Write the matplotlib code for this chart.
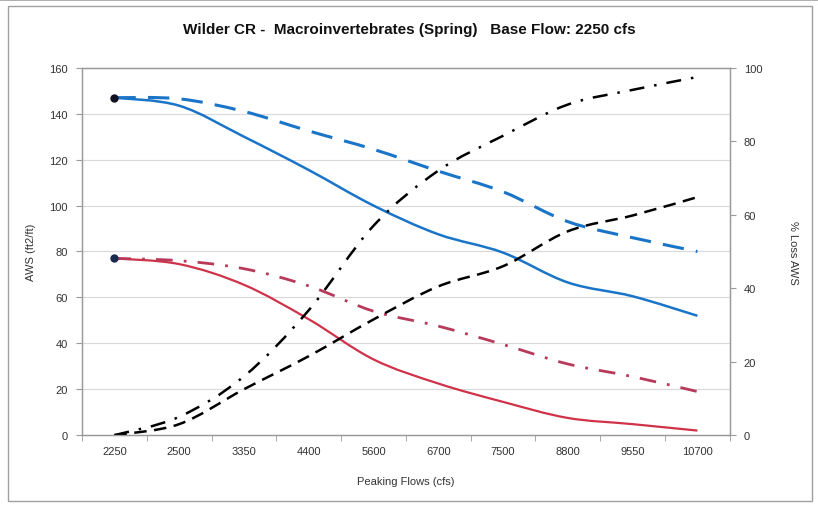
import matplotlib.pyplot as plt
import numpy as np
from matplotlib.patches import Rectangle, PathPatch
from matplotlib.path import Path

plt.rcParams["font.family"] = ["Liberation Sans", "DejaVu Sans"]

flows = ["2250", "2500", "3350", "4400", "5600", "6700", "7500", "8800", "9550", "10700"]

# AWS (ft2/ft), left axis
aws_blue = [147, 143.5, 130, 115.5, 100, 87.5, 79.5, 66.5, 60.5, 52]
aws_blue_dash = [147, 146.5, 141, 132.5, 124.5, 115, 106, 93, 86, 80]
aws_red = [77, 74.5, 65.5, 50.5, 33, 22.5, 14.5, 7.5, 4.8, 2]
aws_red_dashdot = [77, 76, 72.5, 65, 54, 47.5, 39.5, 31, 25.5, 19]

# % loss AWS, right axis
loss_dashdot = [0, 5, 16, 34, 57, 72, 81.5, 90, 94, 97.5]
loss_dash = [0, 3, 12.5, 21.5, 31.5, 40.5, 46, 55.5, 59.8, 64.8]

BLUE = "#1a74c8"
RED = "#d0324a"
RED2 = "#b83a5a"
GRID = "#d9d9d9"
SPINE = "#9a9a9a"
TXT = "#333333"


def smooth_line(a, xs, ys, **kw):
    # Excel-style smoothed line: Catmull-Rom segments as cubic Bezier curves
    pts = np.column_stack([xs, ys]).astype(float)
    ext = np.vstack([pts[0], pts, pts[-1]])
    verts = [pts[0]]
    codes = [Path.MOVETO]
    for i in range(1, len(ext) - 2):
        p0, p1, p2, p3 = ext[i - 1], ext[i], ext[i + 1], ext[i + 2]
        verts += [p1 + (p2 - p0) / 6, p2 - (p3 - p1) / 6, p2]
        codes += [Path.CURVE4] * 3
    a.add_patch(PathPatch(Path(verts, codes), fill=False, **kw))


fig = plt.figure(figsize=(8.18, 5.06), dpi=100)
ax = fig.add_axes([0.1002, 0.138, 0.792, 0.726])
ax2 = ax.twinx()

x = np.arange(len(flows))

smooth_line(ax, x, aws_blue, edgecolor=BLUE, lw=1.8)
smooth_line(ax, x, aws_blue_dash, edgecolor=BLUE, lw=2.2, linestyle=(0, (7, 4)))
smooth_line(ax, x, aws_red, edgecolor=RED, lw=1.6)
smooth_line(ax, x, aws_red_dashdot, edgecolor=RED2, lw=2.0, linestyle=(0, (6, 4, 1, 4)))
ax.plot([x[0]], [aws_blue[0]], "o", color="#111122", ms=5, zorder=5)
ax.plot([x[0]], [aws_red[0]], "o", color="#1a2a50", ms=5, zorder=5)

smooth_line(ax2, x, loss_dashdot, edgecolor="black", lw=1.8, linestyle=(0, (6, 4, 1, 4)))
smooth_line(ax2, x, loss_dash, edgecolor="black", lw=1.8, linestyle=(0, (5, 3)))

ax.set_xlim(-0.5, len(flows) - 0.5)
ax.set_ylim(0, 160)
ax.set_yticks(np.arange(0, 161, 20))
ax2.set_ylim(0, 100)
ax2.set_yticks(np.arange(0, 101, 20))
ax.set_xticks(x)
ax.set_xticklabels(flows)
ax.set_xticks(np.arange(-0.5, len(flows), 1), minor=True)

for v in range(20, 161, 20):
    ax.axhline(v, color=GRID, lw=0.8, zorder=0)

for a in (ax, ax2):
    for s in a.spines.values():
        s.set_color(SPINE)
        s.set_linewidth(0.9)
    a.tick_params(axis="y", labelsize=8, colors=TXT, length=4, width=0.8, pad=6)
    a.tick_params(axis="y", color=SPINE)

ax.tick_params(axis="x", which="major", length=0, labelsize=8, labelcolor=TXT, pad=8)
ax.tick_params(axis="x", which="minor", length=4, color=SPINE)

ax.set_ylabel("AWS (ft2/ft)", fontsize=8, color=TXT, labelpad=10)
ax2.set_ylabel("% Loss AWS", fontsize=8, color=TXT, rotation=270, labelpad=26)
ax.set_xlabel("Peaking Flows (cfs)", fontsize=8, color=TXT, labelpad=14)

fig.text(0.5, 0.94, "Wilder CR -  Macroinvertebrates (Spring)   Base Flow: 2250 cfs",
         ha="center", va="center", fontsize=11, fontweight="bold", color="#111111")

# outer frame
fig.patches.append(Rectangle((8 / 818, 4 / 506), 804 / 818, 495 / 506, transform=fig.transFigure,
                             fill=False, edgecolor="#a0a0a0", lw=1.0))
fig.add_artist(plt.Line2D([0, 1], [1 - 1 / 506, 1 - 1 / 506], transform=fig.transFigure,
                          color="#a0a0a0", lw=1.2))

fig.savefig("out.png", dpi=100)
